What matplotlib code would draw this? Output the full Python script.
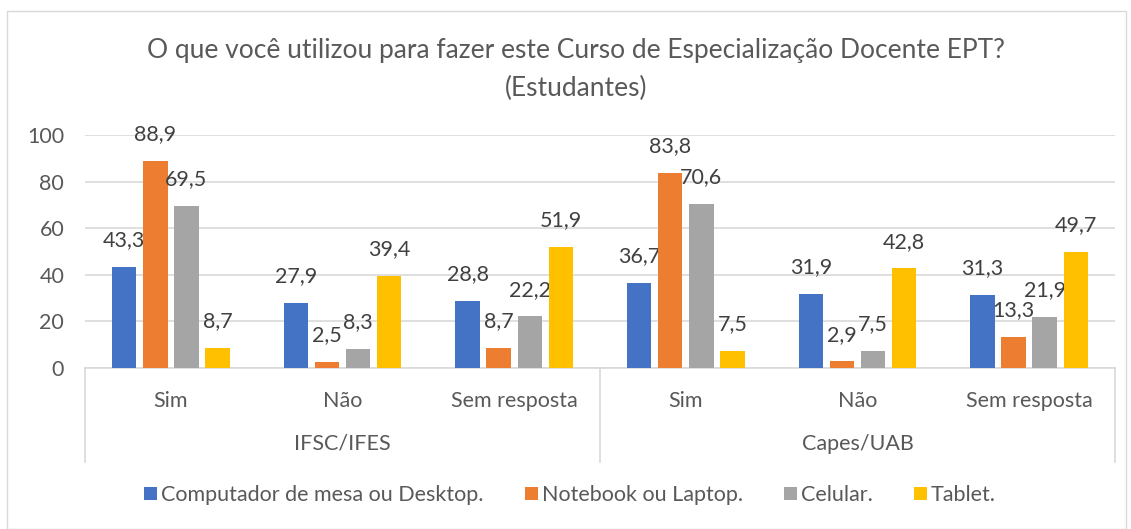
import matplotlib.pyplot as plt
from matplotlib.patches import Rectangle
from matplotlib.lines import Line2D

plt.rcParams['font.family'] = ['Lato', 'DejaVu Sans']

# data
groups = ['IFSC/IFES', 'Capes/UAB']
answers = ['Sim', 'Não', 'Sem resposta']
series = ['Computador de mesa ou Desktop.', 'Notebook ou Laptop.', 'Celular.', 'Tablet.']
desktop = [43.3, 27.9, 28.8, 36.7, 31.9, 31.3]
notebook = [88.9, 2.5, 8.7, 83.8, 2.9, 13.3]
celular = [69.5, 8.3, 22.2, 70.6, 7.5, 21.9]
tablet = [8.7, 39.4, 51.9, 7.5, 42.8, 49.7]
colors = ['#4472C4', '#ED7D31', '#A5A5A5', '#FFC000']

values = [desktop, notebook, celular, tablet]
ncat = len(desktop)
fs = 15.5

fig = plt.figure(figsize=(11.31, 5.29), dpi=100)
ax = fig.add_axes([0.0752, 0.3043, 0.9106, 0.4405])

# outer chart border
fig.patches.append(Rectangle((0.0062, 0.0), 0.9895, 0.979, transform=fig.transFigure,
                             fill=False, edgecolor='#D9D9D9', lw=1))

x = [i + 0.5 for i in range(ncat)]
step = 0.181
width = 0.142
for k, vals in enumerate(values):
    xs = [xi + (k - 1.5) * step for xi in x]
    bars = ax.bar(xs, vals, width, color=colors[k], label=series[k], zorder=3)
    ax.bar_label(bars, labels=[f'{v:.1f}'.replace('.', ',') for v in vals],
                 padding=12, fontsize=fs, color='#404040')

ax.set_xlim(0, ncat)
ax.set_ylim(0, 100)
ax.set_yticks(range(0, 101, 20))
ax.tick_params(axis='y', length=0, labelsize=fs, labelcolor='#595959', pad=15)
ax.set_xticks([])
ax.grid(axis='y', color='#D9D9D9', lw=1.2, zorder=0)
for s in ['top', 'right', 'left']:
    ax.spines[s].set_visible(False)
ax.spines['bottom'].set_color('#D9D9D9')
ax.spines['bottom'].set_linewidth(1.2)

# multi-level category axis
for i, xi in enumerate(x):
    ax.text(xi, -0.14, answers[i % 3], transform=ax.get_xaxis_transform(),
            ha='center', va='center', fontsize=fs, color='#595959')
for g, name in enumerate(groups):
    ax.text(1.5 + 3 * g, -0.325, name, transform=ax.get_xaxis_transform(),
            ha='center', va='center', fontsize=fs, color='#595959')
for xv in [0, 3, 6]:
    ax.add_line(Line2D([xv, xv], [0, -0.405], transform=ax.get_xaxis_transform(),
                       color='#D9D9D9', lw=1.2, clip_on=False))

fig.text(0.509, 0.869, 'O que você utilizou para fazer este Curso de Especialização Docente EPT?\n(Estudantes)',
         ha='center', va='center', fontsize=19, color='#595959', linespacing=1.62)

fig.legend(loc='center', bbox_to_anchor=(0.504, 0.064), ncol=4, frameon=False,
           fontsize=fs, labelcolor='#595959', handlelength=0.6, handleheight=0.6,
           handletextpad=0.2, columnspacing=1.9)

fig.savefig('out.png', dpi=100)
